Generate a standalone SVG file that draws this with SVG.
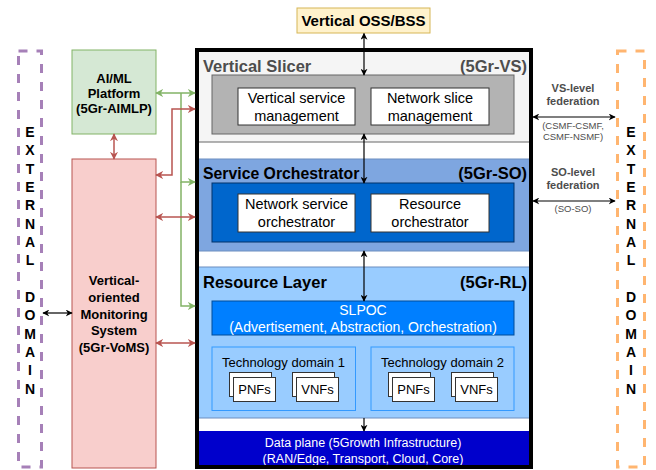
<svg xmlns="http://www.w3.org/2000/svg" width="656" height="470" viewBox="0 0 656 470">
<defs>
<marker id="ak" viewBox="0 0 10 10" refX="9" refY="5" markerWidth="7" markerHeight="7" markerUnits="userSpaceOnUse" orient="auto-start-reverse"><path d="M0,0 L10,5 L0,10 L3,5 z" fill="#000"/></marker>
<marker id="ag" viewBox="0 0 10 10" refX="9" refY="5" markerWidth="8" markerHeight="8" markerUnits="userSpaceOnUse" orient="auto-start-reverse"><path d="M0,0 L10,5 L0,10 L3,5 z" fill="#82b366"/></marker>
<marker id="ar" viewBox="0 0 10 10" refX="9" refY="5" markerWidth="8" markerHeight="8" markerUnits="userSpaceOnUse" orient="auto-start-reverse"><path d="M0,0 L10,5 L0,10 L3,5 z" fill="#b85450"/></marker>
</defs>
<style>
text{font-family:"Liberation Sans",Arial,sans-serif;}
.b{font-weight:bold;}
.c{text-anchor:middle;}
.e{text-anchor:end;}
.ttl{font-size:16.5px;font-weight:bold;}
.lbl{font-size:14.5px;}
.wbox{fill:#fff;stroke:#333;stroke-width:1;}
.nf{fill:#fff;stroke:#333;stroke-width:1;}
.ext{fill:none;stroke-width:3;stroke-dasharray:9 9;}
.lt{font-size:14px;font-weight:bold;text-anchor:middle;}
.fed{font-size:11px;font-weight:bold;fill:#4d4d4d;text-anchor:middle;}
.fs{font-size:9.5px;fill:#4d4d4d;text-anchor:middle;}
.k{fill:none;stroke:#000;stroke-width:1.2;}
.g{fill:none;stroke:#82b366;stroke-width:1.5;}
.r{fill:none;stroke:#b85450;stroke-width:1.5;}
</style>

<g id="oss">
<rect x="297" y="8" width="133" height="25" fill="#fff2cc" stroke="#d6b656" stroke-width="1"/>
<text x="363.5" y="25.5" class="c b" font-size="15">Vertical OSS/BSS</text>
</g>

<g id="ext-left">
<rect x="18.5" y="51" width="23" height="416" class="ext" stroke="#a680b8"/>
<text x="30" y="137" class="lt">E</text>
<text x="30" y="155" class="lt">X</text>
<text x="30" y="173.5" class="lt">T</text>
<text x="30" y="192" class="lt">E</text>
<text x="30" y="210" class="lt">R</text>
<text x="30" y="228.5" class="lt">N</text>
<text x="30" y="247" class="lt">A</text>
<text x="30" y="265" class="lt">L</text>
<text x="30" y="302" class="lt">D</text>
<text x="30" y="320" class="lt">O</text>
<text x="30" y="338.5" class="lt">M</text>
<text x="30" y="357" class="lt">A</text>
<text x="30" y="375" class="lt">I</text>
<text x="30" y="393.5" class="lt">N</text>
</g>

<g id="ext-right">
<rect x="617.5" y="51" width="27" height="416" class="ext" stroke="#ffb570"/>
<text x="631" y="137" class="lt">E</text>
<text x="631" y="155" class="lt">X</text>
<text x="631" y="173.5" class="lt">T</text>
<text x="631" y="192" class="lt">E</text>
<text x="631" y="210" class="lt">R</text>
<text x="631" y="228.5" class="lt">N</text>
<text x="631" y="247" class="lt">A</text>
<text x="631" y="265" class="lt">L</text>
<text x="631" y="302" class="lt">D</text>
<text x="631" y="320" class="lt">O</text>
<text x="631" y="338.5" class="lt">M</text>
<text x="631" y="357" class="lt">A</text>
<text x="631" y="375" class="lt">I</text>
<text x="631" y="393.5" class="lt">N</text>
</g>

<g id="aiml">
<rect x="72" y="50" width="84" height="84" fill="#d5e8d4" stroke="#82b366" stroke-width="1"/>
<text x="114" y="83" class="c b" font-size="13">AI/ML</text>
<text x="114" y="97.5" class="c b" font-size="13">Platform</text>
<text x="114" y="112.5" class="c b" font-size="13">(5Gr-AIMLP)</text>
</g>

<g id="voms">
<rect x="72" y="159" width="84" height="309" fill="#f8cecc" stroke="#b85450" stroke-width="1"/>
<text x="114" y="285" class="c b" font-size="13">Vertical-</text>
<text x="114" y="302" class="c b" font-size="13">oriented</text>
<text x="114" y="318.5" class="c b" font-size="13">Monitoring</text>
<text x="114" y="335" class="c b" font-size="13">System</text>
<text x="114" y="352" class="c b" font-size="13">(5Gr-VoMS)</text>
</g>

<g id="platform">
<rect x="197" y="50" width="334" height="417" fill="#fff" stroke="none"/>
<g id="vs">
<rect x="198" y="51" width="332" height="91" fill="#f5f5f5" stroke="#666" stroke-width="1"/>
<text x="203" y="72" class="ttl" fill="#4d4d4d">Vertical Slicer</text>
<text x="527" y="72" class="ttl e" fill="#4d4d4d">(5Gr-VS)</text>
<rect x="212" y="75" width="302" height="59" fill="#b3b3b3" stroke="#666" stroke-width="1"/>
<rect x="238" y="88" width="117" height="37" class="wbox"/>
<text x="296.5" y="103" class="lbl c">Vertical service</text>
<text x="296.5" y="121" class="lbl c">management</text>
<rect x="371" y="88" width="118" height="37" class="wbox"/>
<text x="430" y="103" class="lbl c">Network slice</text>
<text x="430" y="121" class="lbl c">management</text>
</g>
<g id="so">
<rect x="198" y="159" width="332" height="92" fill="#7ea6e0" stroke="#6c8ebf" stroke-width="1"/>
<text x="203" y="179" class="ttl" style="font-size:15.8px">Service Orchestrator</text>
<text x="527" y="179" class="ttl e">(5Gr-SO)</text>
<rect x="212" y="183" width="302" height="59" fill="#0066cc" stroke="#00336b" stroke-width="1"/>
<rect x="238" y="194" width="117" height="38" class="wbox"/>
<text x="296.5" y="209" class="lbl c">Network service</text>
<text x="296.5" y="227" class="lbl c">orchestrator</text>
<rect x="371" y="194" width="118" height="38" class="wbox"/>
<text x="430" y="209" class="lbl c">Resource</text>
<text x="430" y="227" class="lbl c">orchestrator</text>
</g>
<g id="rl">
<rect x="198" y="267" width="332" height="151" fill="#99ccff" stroke="#6c8ebf" stroke-width="1"/>
<text x="203" y="288" class="ttl">Resource Layer</text>
<text x="527" y="288" class="ttl e">(5Gr-RL)</text>
<rect x="212" y="301" width="302" height="34" fill="#007fff" stroke="#004c99" stroke-width="1"/>
<text x="363" y="315" class="c" font-size="14" fill="#fff">SLPOC</text>
<text x="363" y="332" class="c" font-size="14" fill="#fff">(Advertisement, Abstraction, Orchestration)</text>
</g>
<g id="td1">
<rect x="212" y="347" width="143.5" height="63.5" fill="#99ccff" stroke="#3399ff" stroke-width="1"/>
<text x="283.5" y="367" class="c" font-size="13">Technology domain 1</text>
<rect x="229.5" y="372.5" width="42" height="24" class="nf"/>
<rect x="233.5" y="377.5" width="42" height="24" class="nf"/>
<text x="254.5" y="394" class="c" font-size="13">PNFs</text>
<rect x="292.5" y="372.5" width="42" height="24" class="nf"/>
<rect x="296.5" y="377.5" width="42" height="24" class="nf"/>
<text x="317.5" y="394" class="c" font-size="13">VNFs</text>
</g>
<g id="td2">
<rect x="371" y="347" width="143" height="63.5" fill="#99ccff" stroke="#3399ff" stroke-width="1"/>
<text x="442.5" y="367" class="c" font-size="13">Technology domain 2</text>
<rect x="388.5" y="372.5" width="42" height="24" class="nf"/>
<rect x="392.5" y="377.5" width="42" height="24" class="nf"/>
<text x="413.5" y="394" class="c" font-size="13">PNFs</text>
<rect x="451.5" y="372.5" width="42" height="24" class="nf"/>
<rect x="455.5" y="377.5" width="42" height="24" class="nf"/>
<text x="476.5" y="394" class="c" font-size="13">VNFs</text>
</g>
<g id="dataplane">
<rect x="198" y="431" width="332" height="35" fill="#0000cc" stroke="none"/>
<text x="363" y="447" class="c" font-size="12.5" fill="#fff">Data plane (5Growth Infrastructure)</text>
<text x="363" y="463" class="c" font-size="12.5" fill="#fff">(RAN/Edge, Transport, Cloud, Core)</text>
</g>
<rect x="197" y="50" width="334" height="417" fill="none" stroke="#000" stroke-width="4"/>
</g>

<g id="federation-labels">
<text x="573" y="92" class="fed">VS-level</text>
<text x="573" y="105" class="fed">federation</text>
<text x="573" y="129" class="fs">(CSMF-CSMF,</text>
<text x="573" y="140" class="fs">CSMF-NSMF)</text>
<text x="573" y="176" class="fed">SO-level</text>
<text x="573" y="189" class="fed">federation</text>
<text x="573" y="212" class="fs">(SO-SO)</text>
</g>

<g id="connectors">
<path d="M364,33.5 L364,75" class="k" marker-start="url(#ak)" marker-end="url(#ak)"/>
<path d="M364,134 L364,183" class="k" marker-start="url(#ak)" marker-end="url(#ak)"/>
<path d="M364,251 L364,301" class="k" marker-start="url(#ak)" marker-end="url(#ak)"/>
<path d="M364,418 L364,431" class="k" marker-end="url(#ak)"/>
<path d="M533,117 L615,117" class="k" marker-start="url(#ak)" marker-end="url(#ak)"/>
<path d="M533,201 L615,201" class="k" marker-start="url(#ak)" marker-end="url(#ak)"/>
<path d="M43,313 L72,313" class="k" marker-start="url(#ak)" marker-end="url(#ak)"/>
<path d="M114,134 L114,159" class="r" marker-start="url(#ar)" marker-end="url(#ar)"/>
<path d="M156,93 L195,93" class="g" marker-start="url(#ag)" marker-end="url(#ag)"/>
<path d="M181,93 L181,182 L195,182" class="g" marker-end="url(#ag)"/>
<path d="M181,182 L181,306 L195,306" class="g" marker-end="url(#ag)"/>
<path d="M156,175 L172,175 L172,109 L195,109" class="r" marker-start="url(#ar)" marker-end="url(#ar)"/>
<path d="M156,217 L195,217" class="r" marker-start="url(#ar)" marker-end="url(#ar)"/>
<path d="M156,343 L195,343" class="r" marker-start="url(#ar)" marker-end="url(#ar)"/>
</g>
</svg>
